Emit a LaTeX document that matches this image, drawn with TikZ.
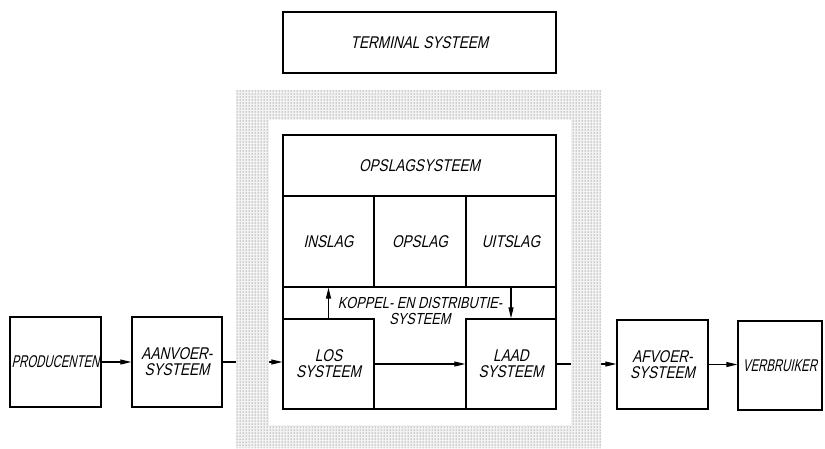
\documentclass[tikz,border=0pt]{standalone}
\usepackage{fontspec}
\usepackage{tikz}
\newfontfamily\lettering{Liberation Sans}[FakeStretch=0.8,FakeSlant=0.22]
\newfontfamily\letteringnarrow{Liberation Sans}[FakeStretch=0.67,FakeSlant=0.22]
\usetikzlibrary{arrows.meta, positioning, patterns}

\begin{document}
\begin{tikzpicture}[x=1pt, y=-1pt,
  box/.style={draw, line width=1.4pt, inner sep=0pt, align=center,
    font=\lettering\fontsize{17}{16}\selectfont},
  narrowbox/.style={box, font=\letteringnarrow\fontsize{17}{16}\selectfont},
  cell/.style={box, line width=1.1pt},
  label/.style={inner sep=0pt, align=center, font=\lettering\fontsize{16}{16}\selectfont},
  arr/.style={-{Triangle[length=11pt,width=5pt]}, line width=1.1pt}]
\useasboundingbox (0,0) rectangle (825,448);

% --- chain outside the terminal ---
\node[narrowbox, minimum width=91, minimum height=90] (prod) at (55.5,362) {PRODUCENTEN};
\node[box, minimum width=90, minimum height=90] (aanvoer) at (177,362) {AANVOER-\\SYSTEEM};
\node[box, minimum width=91, minimum height=89] (afvoer) at (662.5,364.5) {AFVOER-\\SYSTEEM};
\node[narrowbox, minimum width=84, minimum height=89] (verbr) at (780,365.5) {VERBRUIKER};

% --- terminal title ---
\node[box, minimum width=273, minimum height=61] (terminal) at (419.5,42.5) {TERMINAL SYSTEEM};

% --- terminal contents ---
\draw[line width=1.4pt] (283,135) rectangle (556,409);
\node[cell, minimum width=273, minimum height=61] (opslagsys) at (419.5,165.5) {OPSLAGSYSTEEM};
\node[cell, minimum width=91, minimum height=91] (inslag) at (328.5,241.5) {INSLAG};
\node[cell, minimum width=92, minimum height=91] (opslag) at (420,241.5) {OPSLAG};
\node[cell, minimum width=90, minimum height=91] (uitslag) at (511,241.5) {UITSLAG};
\node[label] (koppel) at (420,311) {KOPPEL- EN DISTRIBUTIE-\\SYSTEEM};
\node[box, minimum width=91, minimum height=90] (los) at (328.5,364) {LOS\\SYSTEEM};
\node[box, minimum width=90, minimum height=90] (laad) at (511,364) {LAAD\\SYSTEEM};

% --- flows ---
\draw[arr] (prod.east) -- (aanvoer.west);
\draw[arr] (aanvoer.east) -- (aanvoer.east -| los.west);
\draw[arr] (los.east) -- (laad.west);
\draw[arr] (los.north) -- (inslag.south);
\draw[arr] (uitslag.south) -- (laad.north);
\draw[arr] (laad.east) -- (laad.east -| afvoer.west);
\draw[arr] (afvoer.east) -- (afvoer.east -| verbr.west);

% --- dotted terminal ring (over the flow lines) ---
\fill[black!5, even odd rule] (236,90) rectangle (601,448) (269,120) rectangle (571,425);
\fill[pattern=dots, pattern color=black!70, even odd rule]
  (236,90) rectangle (601,448) (269,120) rectangle (571,425);
\end{tikzpicture}
\end{document}
